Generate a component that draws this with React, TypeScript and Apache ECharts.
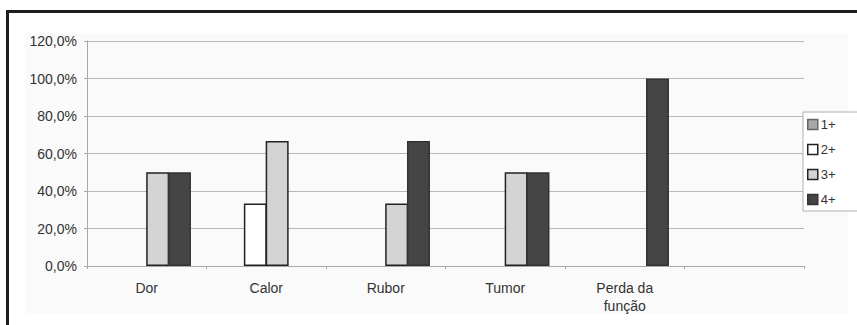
import React, { useEffect, useRef } from "react";
import * as echarts from "echarts";

const categories = ["Dor", "Calor", "Rubor", "Tumor", "Perda da\nfunção", ""];
const seriesNames = ["1+", "2+", "3+", "4+"];
const values1 = [null, null, null, null, null, null];
const values2 = [null, 33.3, null, null, null, null];
const values3 = [50, 66.7, 33.3, 50, null, null];
const values4 = [50, null, 66.7, 50, 100, null];

export default function App() {
  const ref = useRef<HTMLDivElement>(null);
  useEffect(() => {
    if (!ref.current) return;
    const chart = echarts.init(ref.current, undefined, { renderer: "svg" });
    const font = "'Liberation Sans', Arial, sans-serif";
    const colors = ["#a8a8a8", "#ffffff", "#d4d4d4", "#454545"];
    const borders = ["#666", "#222", "#222", "#333"];
    const data = [values1, values2, values3, values4];
    chart.setOption({
      animation: false,
      backgroundColor: "#ffffff",
      graphic: [
        {
          type: "rect",
          z: -10,
          silent: true,
          shape: { x: 25, y: 33, width: 823, height: 280 },
          style: { fill: "#fafafa" },
        },
        {
          type: "rect",
          z: 100,
          silent: true,
          shape: { x: 7.5, y: 11.5, width: 900, height: 400 },
          style: { fill: "none", stroke: "#1e1e1e", lineWidth: 3 },
        },
      ],
      grid: { left: 87, right: 53, top: 41, bottom: 59, containLabel: false },
      legend: {
        orient: "vertical",
        left: 803,
        top: 112,
        data: seriesNames,
        icon: "rect",
        itemWidth: 10,
        itemHeight: 10,
        itemGap: 12,
        itemStyle: { borderWidth: 1.5 },
        padding: [6, 40, 5, 4],
        backgroundColor: "#ffffff",
        borderColor: "#b0b0b0",
        borderWidth: 1,
        textStyle: { fontFamily: font, fontSize: 13, color: "#333", padding: [0, 0, 0, -2] },
      },
      xAxis: {
        type: "category",
        data: categories,
        axisLine: { lineStyle: { color: "#a8a8a8" } },
        axisTick: { show: true, length: 3, lineStyle: { color: "#a8a8a8" } },
        axisLabel: {
          fontFamily: font,
          fontSize: 14,
          color: "#333",
          margin: 13,
          lineHeight: 18,
          interval: 0,
        },
      },
      yAxis: {
        type: "value",
        min: 0,
        max: 120,
        interval: 20,
        axisLine: { show: true, lineStyle: { color: "#a8a8a8" } },
        axisTick: { show: true, length: 3, lineStyle: { color: "#a8a8a8" } },
        splitLine: { lineStyle: { color: "#b8b8b8" } },
        axisLabel: {
          fontFamily: font,
          fontSize: 14,
          color: "#333",
          margin: 10,
          formatter: (v: number) => v.toFixed(1).replace(".", ",") + "%",
        },
      },
      series: seriesNames.map((name, i) => ({
        name,
        type: "bar",
        data: data[i],
        barGap: "-5%",
        barCategoryGap: "26%",
        itemStyle: { color: colors[i], borderColor: borders[i], borderWidth: 1.5 },
      })),
    });
    return () => chart.dispose();
  }, []);
  return (
    <div
      ref={ref}
      style={{ position: "absolute", left: 0, top: 0, width: 857, height: 325 }}
    />
  );
}
